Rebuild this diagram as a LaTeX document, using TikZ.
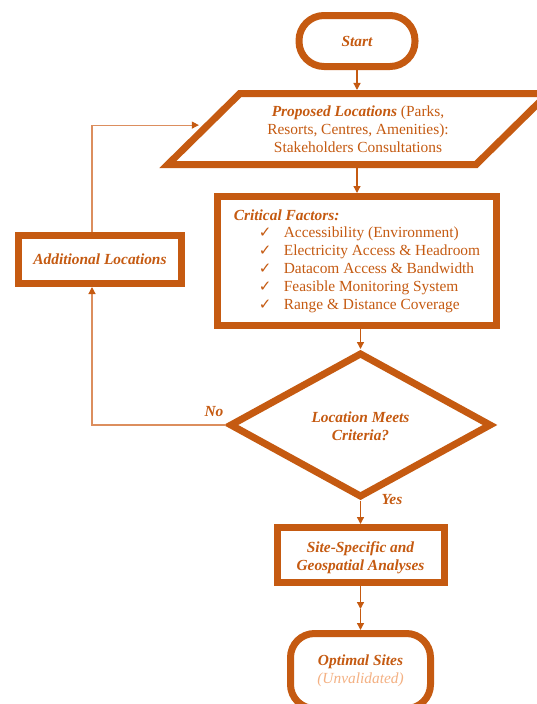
\documentclass[tikz,border=0pt]{standalone}
\usepackage{fontspec}
\setmainfont{Liberation Serif}
\newfontfamily\symfont{DejaVu Sans}
\usetikzlibrary{shapes.geometric,arrows.meta,calc}
\definecolor{rust}{HTML}{C55A11}
\definecolor{peach}{HTML}{F4B183}
\definecolor{looprust}{HTML}{DC8E5E}
% check-mark bullet for the list of factors
\newcommand{\chkitem}[1]{\hspace*{25pt}\makebox[25pt][l]{{\symfont\fontsize{15}{15}\selectfont ✓}}#1}

\begin{document}
\begin{tikzpicture}[x=1pt,y=-1pt,
  every node/.style={font=\fontsize{15.4}{17.8}\selectfont, text=rust},
  frame/.style={draw=rust, line width=7pt, fill=white, inner sep=0pt},
  hd/.style={font=\fontsize{15.4}{17.8}\selectfont\bfseries\itshape},
  flow/.style={draw=rust, line width=1.3pt, -{Triangle[width=7pt,length=7pt]}},
  back/.style={draw=looprust, line width=1.1pt, -{Triangle[width=7pt,length=7pt,color=rust]}},
]
\useasboundingbox (0,0) rectangle (537,704);

% main column
\node[frame, rounded corners=25pt, minimum width=116pt, minimum height=51pt, hd]
  (start) at (357,41) {Start};

\node[frame, trapezium, trapezium left angle=40, trapezium right angle=140,
      trapezium stretches=true, minimum width=381pt, minimum height=71pt, align=center]
  (par) at (358,129)
  {\textbf{\textit{Proposed Locations}} (Parks,\\Resorts, Centres, Amenities):\\Stakeholders Consultations};

\node[frame, minimum width=279pt, minimum height=129pt, align=left]
  (crit) at (357,261)
  {\textbf{\textit{Critical Factors:}}\\
   \chkitem{Accessibility (Environment)}\\
   \chkitem{Electricity Access \& Headroom}\\
   \chkitem{Datacom Access \& Bandwidth}\\
   \chkitem{Feasible Monitoring System}\\
   \chkitem{Range \& Distance Coverage}};

\node[frame, diamond, minimum width=262pt, minimum height=145pt, hd, align=center]
  (dia) at (360.5,425) {\rule{0pt}{14pt}Location Meets\\Criteria?};

\node[frame, minimum width=167pt, minimum height=55pt, hd, align=center]
  (site) at (360.5,555) {\rule{0pt}{16pt}Site-Specific and\\Geospatial Analyses};

\node[frame, rounded corners=24pt, minimum width=140pt, minimum height=75pt, align=center]
  (opt) at (360.5,671)
  {\textbf{\textit{Optimal Sites}}\\{\itshape\color{peach}(Unvalidated)}};

% side box for the rejected branch
\node[frame, minimum width=163pt, minimum height=48pt, hd]
  (add) at (100,259.5) {Additional Locations};

% branch labels
\node[hd] (no) at (214,412) {No};
\node[hd] (yes) at (392,500) {Yes};

% connectors
\draw[flow] (start.south) -- (start.south |- par.north);
\draw[flow] (start.south |- par.south) -- (start.south |- crit.north);
\draw[flow] (dia.north |- crit.south) -- (dia.north);
\draw[flow] (dia.south) -- (site.north);
\coordinate (mid) at (360.5,609);
\draw[flow] (site.south) -- (mid);
\draw[flow] (mid) -- (opt.north);

\coordinate (lx) at (92,0);
\coordinate (entry) at ($(par.top left corner)!0.45!(par.bottom left corner)$);
\draw[back] (dia.west) -- (lx |- dia.west) -- (lx |- add.south);
\draw[back, shorten >=4pt] (lx |- add.north) |- (entry);
\end{tikzpicture}
\end{document}
